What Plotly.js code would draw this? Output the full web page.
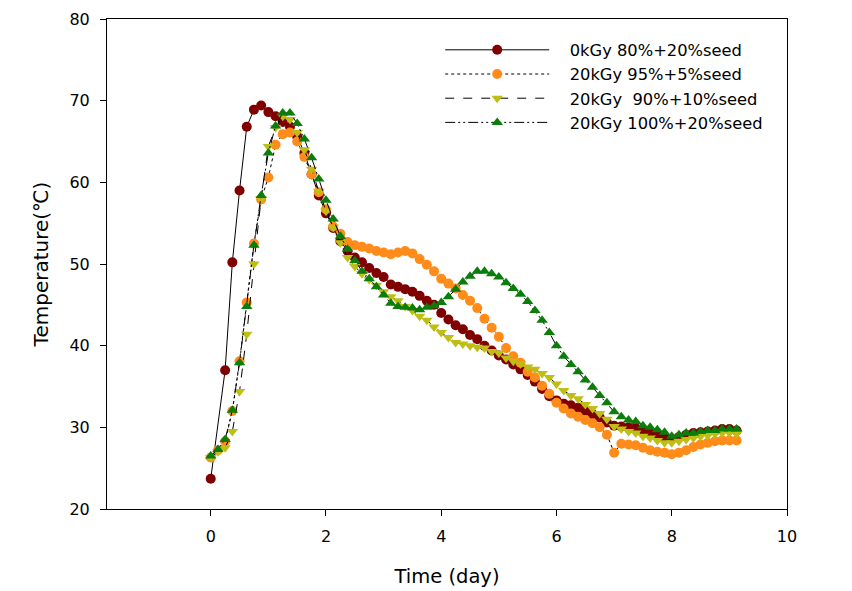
<!DOCTYPE html>
<html>
<head>
<meta charset="utf-8">
<script src="https://cdn.plot.ly/plotly-3.0.1.min.js"></script>
<style>html,body{margin:0;padding:0;background:#fff;}#chart{width:852px;height:591px;}</style>
</head>
<body>
<div id="chart"></div>
<script>
// Time in days (sampled every 3 hours)
const days = [0,0.125,0.25,0.375,0.5,0.625,0.75,0.875,1,1.125,1.25,1.375,1.5,1.625,1.75,1.875,2,2.125,2.25,2.375,2.5,2.625,2.75,2.875,3,3.125,3.25,3.375,3.5,3.625,3.75,3.875,4,4.125,4.25,4.375,4.5,4.625,4.75,4.875,5,5.125,5.25,5.375,5.5,5.625,5.75,5.875,6,6.125,6.25,6.375,6.5,6.625,6.75,6.875,7,7.125,7.25,7.375,7.5,7.625,7.75,7.875,8,8.125,8.25,8.375,8.5,8.625,8.75,8.875,9,9.125];

const seriesNames = ["0kGy 80%+20%seed", "20kGy 95%+5%seed", "20kGy  90%+10%seed", "20kGy 100%+20%seed"];

const temp0kGy80 = [23.7,null,37.0,50.2,59.0,66.8,68.9,69.4,68.6,68.1,67.4,66.8,65.6,63.6,61.0,58.4,56.2,54.4,52.8,51.6,50.8,50.2,49.5,48.9,48.4,47.5,47.2,46.9,46.6,46.1,45.5,45.0,44.0,43.2,42.5,42.0,41.3,40.8,40.0,39.4,38.8,38.3,37.7,37.1,36.4,35.6,34.7,33.8,33.3,32.9,32.7,32.4,32.0,31.6,31.2,30.6,30.2,30.1,30.0,29.9,29.7,29.4,29.1,28.8,28.6,28.8,29.1,29.3,29.4,29.5,29.6,29.8,29.8,29.6];

const temp20kGy95 = [26.3,27.2,28.3,32.0,38.1,45.3,52.5,57.9,60.6,64.6,65.9,66.1,65.0,63.1,61.0,58.8,56.7,54.6,53.7,52.7,52.3,52.1,51.9,51.6,51.4,51.2,51.4,51.6,51.3,50.6,49.9,49.1,48.2,47.6,47.0,46.2,45.5,44.6,43.3,42.2,41.1,39.7,38.7,37.9,36.8,36.1,35.1,34.1,33.0,32.3,31.7,31.3,30.9,30.5,30.0,29.1,26.9,28.0,27.9,27.8,27.5,27.2,27.0,26.9,26.7,26.9,27.2,27.6,27.9,28.1,28.3,28.4,28.4,28.4];

const temp20kGy90 = [26.3,27.0,27.5,29.5,34.4,41.4,50.0,58.0,64.4,66.7,68.1,67.7,66.1,64.0,61.6,58.9,56.5,54.5,52.6,50.8,49.7,48.8,48.1,47.4,46.6,46.0,45.5,44.8,44.3,43.6,43.1,42.3,41.6,41.0,40.4,40.2,40.0,39.8,39.7,39.3,39.1,38.5,38.1,37.8,37.4,37.1,36.6,36.1,35.3,34.5,33.9,33.5,32.8,32.3,31.7,31.0,30.1,29.8,29.5,29.3,28.9,28.7,28.4,28.1,28.1,28.3,28.5,28.7,28.9,29.0,29.2,29.3,29.3,29.2];

const temp20kGy100 = [26.5,27.3,28.5,32.1,37.9,44.8,52.3,58.4,63.6,66.9,68.5,68.5,67.2,65.3,63.0,60.4,57.8,55.5,53.4,51.8,50.4,49.1,48.2,47.2,46.2,45.2,44.8,44.7,44.6,44.4,44.7,44.9,45.3,46.0,46.9,47.8,48.5,49.1,49.1,48.8,48.4,47.7,47.0,46.3,45.4,44.3,43.1,41.6,40.0,38.7,37.7,36.8,35.8,34.9,33.9,33.0,31.9,31.3,30.9,30.7,30.2,30.0,29.7,29.4,28.9,29.1,29.3,29.3,29.5,29.6,29.6,29.8,29.8,29.8];

const xTicks = [0,2,4,6,8,10];
const yTicks = [20,30,40,50,60,70,80];

const styles = [
  {color:'#800000', symbol:'circle', dash:'solid'},
  {color:'#FF8C1A', symbol:'circle', dash:'dot'},
  {color:'#BEBE14', symbol:'triangle-down', dash:'dash'},
  {color:'#0A7D0A', symbol:'triangle-up', dash:'10px,3px,2px,3px,2px,3px'}
];
const allY = [temp0kGy80, temp20kGy95, temp20kGy90, temp20kGy100];

const traces = allY.map((y,i)=>({
  x: days, y: y, name: '   ' + seriesNames[i], type:'scatter', mode:'lines+markers',
  connectgaps: true,
  line:{color:'#000', width:1, dash:styles[i].dash},
  marker:{color:styles[i].color, symbol:styles[i].symbol, size:10, line:{width:0}}
}));

const font = {family:'"DejaVu Sans", "Liberation Sans", Arial, sans-serif', color:'#000'};

const layout = {
  width:852, height:591,
  margin:{l:107, r:65, t:19, b:82},
  paper_bgcolor:'#fff', plot_bgcolor:'#fff',
  font: Object.assign({size:16}, font),
  showlegend:true,
  legend:{x:0.49, y:0.972, xanchor:'left', yanchor:'top', bgcolor:'rgba(0,0,0,0)',
    font: Object.assign({size:16.3}, font), itemwidth:104, tracegroupgap:0},
  xaxis:{range:[-1.8,10], tickvals:xTicks, ticktext:xTicks.map(String),
    showgrid:false, zeroline:false, showline:true, linecolor:'#000', linewidth:1, mirror:true,
    ticks:'outside', ticklen:6, tickcolor:'#000', ticklabelstandoff:7,
    tickfont:Object.assign({size:16}, font),
    title:{text:'Time (day)', font:Object.assign({size:19.5}, font), standoff:24}},
  yaxis:{range:[20,80], tickvals:yTicks, ticktext:yTicks.map(String),
    showgrid:false, zeroline:false, showline:true, linecolor:'#000', linewidth:1, mirror:true,
    ticks:'outside', ticklen:6, tickcolor:'#000', ticklabelstandoff:7,
    tickfont:Object.assign({size:16}, font),
    title:{text:'Temperature(℃)', font:Object.assign({size:20}, font), standoff:15}}
};

Plotly.newPlot('chart', traces, layout, {displayModeBar:false, staticPlot:true});
</script>
</body>
</html>
